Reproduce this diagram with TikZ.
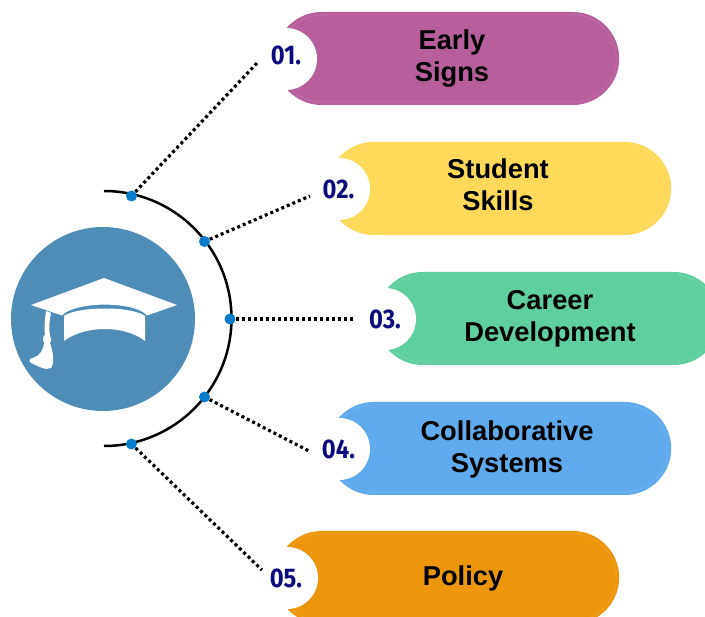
\documentclass[tikz,border=0pt]{standalone}
\usepackage{fontspec}
\setmainfont{Liberation Sans}
\newfontfamily\numfont{Fira Sans}
\definecolor{cpurple}{HTML}{B85F9B}
\definecolor{cyellow}{HTML}{FFD95A}
\definecolor{cgreen}{HTML}{5FCF9F}
\definecolor{cblue}{HTML}{60ABEE}
\definecolor{corange}{HTML}{EC960C}
\definecolor{chub}{HTML}{4F8DB9}
\definecolor{cdot}{HTML}{0A7BCB}
\definecolor{cnum}{HTML}{0B0B7F}
\tikzset{
  pill/.style={draw=none,rounded corners=46.5pt,minimum width=344pt,minimum height=93pt,inner sep=0pt,anchor=west},
  pillline/.style={draw=white,draw opacity=0.14,line width=0.5pt,rounded corners=43.5pt,minimum width=338pt,minimum height=87pt,inner sep=0pt,anchor=west},
  notch/.style={circle,fill=white,minimum size=62pt,inner sep=0pt},
  numlabel/.style={font=\numfont\bfseries\fontsize{27}{27}\selectfont,text=cnum,xscale=0.88,inner sep=0pt},
  title/.style={font=\bfseries\fontsize{27.3}{32}\selectfont,text=black,align=center,inner sep=0pt},
  hubdot/.style={circle,fill=cdot,minimum size=11pt,inner sep=0pt},
  link/.style={line width=3.2pt,dash pattern=on 3pt off 3pt,black},
}
\begin{document}
\begin{tikzpicture}[x=1pt,y=-1pt]
\useasboundingbox (0,0) rectangle (705,617);
\clip (0,0) rectangle (705,617);
% pills
\node[pill,fill=cpurple] (p1) at (275,58.5) {};
\node[pill,fill=cyellow] (p2) at (327,188.5) {};
\node[pill,fill=cgreen] (p3) at (376,318.5) {};
\node[pill,fill=cblue] (p4) at (327,448.5) {};
\node[pill,fill=corange] (p5) at (275,577.5) {};
\node[pillline] (q1) at (278,58.5) {};
\node[pillline] (q2) at (330,188.5) {};
\node[pillline] (q3) at (379,318.5) {};
\node[pillline] (q4) at (330,448.5) {};
\node[pillline] (q5) at (278,577.5) {};
% notches
\node[notch] (c1) at (286,59) {};
\node[notch] (c2) at (339,189) {};
\node[notch] (c3) at (385,319) {};
\node[notch] (c4) at (339,449) {};
\node[notch] (c5) at (287,578) {};
% numbers
\node[numlabel] (n1) at (286,55) {01.};
\node[numlabel] (n2) at (338.5,189) {02.};
\node[numlabel] (n3) at (385,319) {03.};
\node[numlabel] (n4) at (338.5,449) {04.};
\node[numlabel] (n5) at (286,578) {05.};
% titles
\node[title] (t1) at (452,59) {Early\\Signs};
\node[title] (t2) at (498,184.5) {Student\\Skills};
\node[title] (t3) at (550,319) {Career\\Development};
\node[title] (t4) at (507,449) {Collaborative\\Systems};
\node[title] (t5) at (463,578) {Policy};
% hub
\node[circle,fill=chub,minimum size=184pt,inner sep=0pt] (hub) at (103,319) {};
% cap
\fill[white] (104,278) -- (177,305) -- (147,315.5) .. controls (135,301) and (75,301) .. (62,315.5) -- (31,305) -- cycle;
\fill[white] (64,316) .. controls (78,306) and (132,306) .. (145,316) -- (145,341) .. controls (125,325) and (85,325) .. (64,341) -- cycle;
\fill[white] (46,311) -- (51,313) .. controls (49,322) and (49,330) .. (50,336) .. controls (52,339) and (51,342) .. (50,343) .. controls (53,352) and (55,362) .. (51,368) .. controls (46,371) and (38,366) .. (31,363) .. controls (28,361) and (30,358) .. (33,358) .. controls (40,356) and (44,349) .. (44,342) .. controls (42,340) and (43,336) .. (45,335) .. controls (44,328) and (45,318) .. (46,311) -- cycle;
% arc
\draw[line width=2.5pt,black] (104,191) arc[start angle=90,end angle=-90,radius=127.5pt];
% endpoints
\coordinate (e1) at (258,62);
\coordinate (e2) at (310,196);
\coordinate (e3) at (355,319);
\coordinate (e4) at (309,451);
\coordinate (e5) at (262,570);
\node[hubdot] (d1) at (131.5,196) {};
\node[hubdot] (d2) at (204.5,241.5) {};
\node[hubdot] (d3) at (230,319) {};
\node[hubdot] (d4) at (204.5,397) {};
\node[hubdot] (d5) at (131.5,444) {};
\draw[link] (d1) -- (e1);
\draw[link] (d2) -- (e2);
\draw[link] (d3) -- (e3);
\draw[link] (d4) -- (e4);
\draw[link] (d5) -- (e5);
\end{tikzpicture}
\end{document}
